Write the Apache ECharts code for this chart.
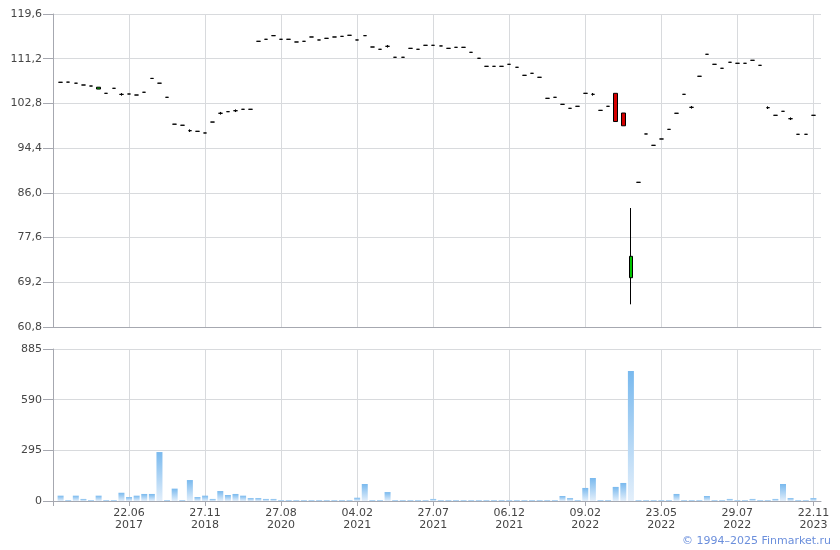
<!DOCTYPE html>
<html>
<head>
<meta charset="utf-8">
<script src="https://cdn.jsdelivr.net/npm/echarts@6/dist/echarts.min.js"></script>
<style>
  html, body { margin: 0; padding: 0; background: #fff; }
  #chart { width: 840px; height: 550px; }
</style>
</head>
<body>
<div id="chart"></div>
<script>
// ---- Data ----
const tickLabels = ['22.06\n2017', '27.11\n2018', '27.08\n2020', '04.02\n2021', '27.07\n2021',
                    '06.12\n2021', '09.02\n2022', '23.05\n2022', '29.07\n2022', '22.11\n2023'];

const openPrices = [
  106.77,106.8,106.6,106.26,106.07,105.5,104.7,105.64,104.5,104.57,
  104.38,104.9,107.5,106.6,103.95,98.9,98.7,97.68,97.56,97.25,
  99.3,100.95,101.25,101.43,101.7,101.7,114.47,114.85,115.53,114.85,
  114.85,114.34,114.47,115.28,114.72,115.03,115.28,115.4,115.6,114.72,
  115.53,113.4,112.97,113.53,111.47,111.47,113.15,112.97,113.72,113.72,
  113.6,113.15,113.34,113.34,112.4,111.28,109.77,109.77,109.77,110.15,
  109.59,108.08,108.46,107.71,103.76,103.95,102.63,101.88,102.26,104.7,
  104.51,101.5,102.26,104.7,101.0,70.06,87.98,97.06,94.93,96.12,
  97.93,100.95,104.51,102.07,107.9,112.03,110.15,109.4,110.53,110.34,
  110.34,110.9,109.96,102.0,100.57,101.32,99.93,97.0,97.0,100.57
];
const closePrices = [
  106.77,106.8,106.6,106.26,106.07,105.85,104.7,105.64,104.5,104.57,
  104.38,104.9,107.5,106.6,103.95,98.9,98.7,97.68,97.56,97.25,
  99.3,100.95,101.25,101.43,101.7,101.7,114.47,114.85,115.53,114.85,
  114.85,114.34,114.47,115.28,114.72,115.03,115.28,115.4,115.6,114.72,
  115.53,113.4,112.97,113.53,111.47,111.47,113.15,112.97,113.72,113.72,
  113.6,113.15,113.34,113.34,112.4,111.28,109.77,109.77,109.77,110.15,
  109.59,108.08,108.46,107.71,103.76,103.95,102.63,101.88,102.26,104.7,
  104.51,101.5,102.26,99.4,98.6,74.08,87.98,97.06,94.93,96.12,
  97.93,100.95,104.51,102.07,107.9,112.03,110.15,109.4,110.53,110.34,
  110.34,110.9,109.96,102.0,100.57,101.32,99.93,97.0,97.0,100.57
];
const lowPrices = [
  106.77,106.8,106.6,106.26,106.07,105.5,104.7,105.64,104.25,104.57,
  104.38,104.9,107.5,106.6,103.95,98.9,98.7,97.43,97.56,97.25,
  99.3,100.7,101.25,101.18,101.7,101.7,114.47,114.85,115.53,114.85,
  114.85,114.34,114.47,115.28,114.72,115.03,115.28,115.4,115.6,114.72,
  115.53,113.4,112.97,113.28,111.47,111.47,113.15,112.97,113.72,113.72,
  113.6,113.15,113.34,113.34,112.4,111.28,109.77,109.77,109.77,110.15,
  109.59,108.08,108.46,107.71,103.76,103.95,102.63,101.88,102.26,104.7,
  104.26,101.5,102.26,99.4,98.6,65.06,87.98,97.06,94.93,96.12,
  97.93,100.95,104.51,101.82,107.9,112.03,110.15,109.4,110.53,110.34,
  110.34,110.9,109.96,101.75,100.57,101.32,99.68,97.0,97.0,100.57
];
const highPrices = [
  106.77,106.8,106.6,106.26,106.07,105.85,104.7,105.64,104.75,104.57,
  104.38,104.9,107.5,106.6,103.95,98.9,98.7,97.93,97.56,97.25,
  99.3,101.2,101.25,101.68,101.7,101.7,114.47,114.85,115.53,114.85,
  114.85,114.34,114.47,115.28,114.72,115.03,115.28,115.4,115.6,114.72,
  115.53,113.4,112.97,113.78,111.47,111.47,113.15,112.97,113.72,113.72,
  113.6,113.15,113.34,113.34,112.4,111.28,109.77,109.77,109.77,110.15,
  109.59,108.08,108.46,107.71,103.76,103.95,102.63,101.88,102.26,104.7,
  104.76,101.5,102.26,104.7,101.0,83.15,87.98,97.06,94.93,96.12,
  97.93,100.95,104.51,102.32,107.9,112.03,110.15,109.4,110.53,110.34,
  110.34,110.9,109.96,102.25,100.57,101.32,100.18,97.0,97.0,100.57
];
const volumes = [
  31,6,31,12,6,31,6,6,48,23,
  31,41,41,285,6,72,6,122,23,31,
  12,58,35,41,31,17,17,12,12,6,
  6,6,6,6,6,6,6,6,6,19,
  99,6,6,52,6,6,6,6,6,12,
  6,6,6,6,6,6,6,6,6,6,
  6,6,6,6,6,6,29,17,6,76,
  134,6,6,82,105,757,6,6,6,6,
  6,41,6,6,6,29,6,6,12,6,
  6,12,6,6,12,99,17,6,6,17
];
const priceMin = 60.8, priceMax = 119.6, priceStep = 8.4;
const volMax = 885, volStep = 295;

// ---- Build ----
// one empty slot before and after the data along the category axis
const n = closePrices.length;
const cats = [];
for (let p = 0; p < n + 2; p++) {
  cats.push(p > 0 && p % 10 === 0 ? (tickLabels[p / 10 - 1] || '') : '');
}
const candleData = ['-'];
const volData = ['-'];
for (let i = 0; i < n; i++) {
  candleData.push([openPrices[i], closePrices[i], lowPrices[i], highPrices[i]]);
  volData.push(volumes[i]);
}
candleData.push('-');
volData.push('-');

const FONT = 'DejaVu Sans';
const axisCol = '#a6a8b0';
const gridCol = '#d8dadd';
const labelCol = '#454545';
const fmt = v => v.toFixed(1).replace('.', ',');

const chart = echarts.init(document.getElementById('chart'), null, {renderer: 'canvas'});
chart.setOption({
  animation: false,
  backgroundColor: '#ffffff',
  grid: [
    {left: 53, right: 19, top: 14, height: 313},
    {left: 53, right: 19, top: 349, height: 152}
  ],
  xAxis: [
    {
      type: 'category', gridIndex: 0, data: cats, boundaryGap: false,
      axisLine: {show: true, lineStyle: {color: axisCol}},
      axisTick: {show: false},
      axisLabel: {show: false},
      splitLine: {show: true, interval: 9, lineStyle: {color: gridCol, width: 1}}
    },
    {
      type: 'category', gridIndex: 1, data: cats, boundaryGap: false,
      axisLine: {show: true, lineStyle: {color: axisCol}},
      axisTick: {show: true, interval: 9, length: 5, lineStyle: {color: axisCol}},
      axisLabel: {show: true, interval: 9, color: labelCol, fontFamily: FONT, fontSize: 11, lineHeight: 12, margin: 6},
      splitLine: {show: true, interval: 9, lineStyle: {color: gridCol, width: 1}}
    }
  ],
  yAxis: [
    {
      type: 'value', gridIndex: 0, min: priceMin, max: priceMax, interval: priceStep,
      axisLine: {show: true, lineStyle: {color: axisCol}},
      axisTick: {show: true, length: 10, lineStyle: {color: axisCol}},
      axisLabel: {color: labelCol, fontFamily: FONT, fontSize: 11, margin: 11, formatter: fmt},
      splitLine: {show: true, lineStyle: {color: gridCol, width: 1}}
    },
    {
      type: 'value', gridIndex: 1, min: 0, max: volMax, interval: volStep,
      axisLine: {show: true, lineStyle: {color: axisCol}},
      axisTick: {show: true, length: 10, lineStyle: {color: axisCol}},
      axisLabel: {color: labelCol, fontFamily: FONT, fontSize: 11, margin: 11},
      splitLine: {show: true, lineStyle: {color: gridCol, width: 1}}
    }
  ],
  series: [
    {
      type: 'candlestick', xAxisIndex: 0, yAxisIndex: 0, data: candleData,
      barWidth: 4,
      itemStyle: {
        color: '#00c400', color0: '#d40000',
        borderColor: '#000', borderColor0: '#000', borderColorDoji: '#000',
        borderWidth: 1
      }
    },
    {
      type: 'bar', xAxisIndex: 1, yAxisIndex: 1, data: volData, barWidth: 6,
      itemStyle: {
        color: new echarts.graphic.LinearGradient(0, 0, 0, 1, [
          {offset: 0, color: '#79b9ee'},
          {offset: 1, color: '#e3effb'}
        ])
      }
    }
  ],
  graphic: [
    {
      type: 'text', right: 9, top: 536,
      style: {text: '\u00a9 1994\u20132025 Finmarket.ru', fill: '#6b8fdc', font: '11px "DejaVu Sans"'}
    }
  ]
});
</script>
</body>
</html>
